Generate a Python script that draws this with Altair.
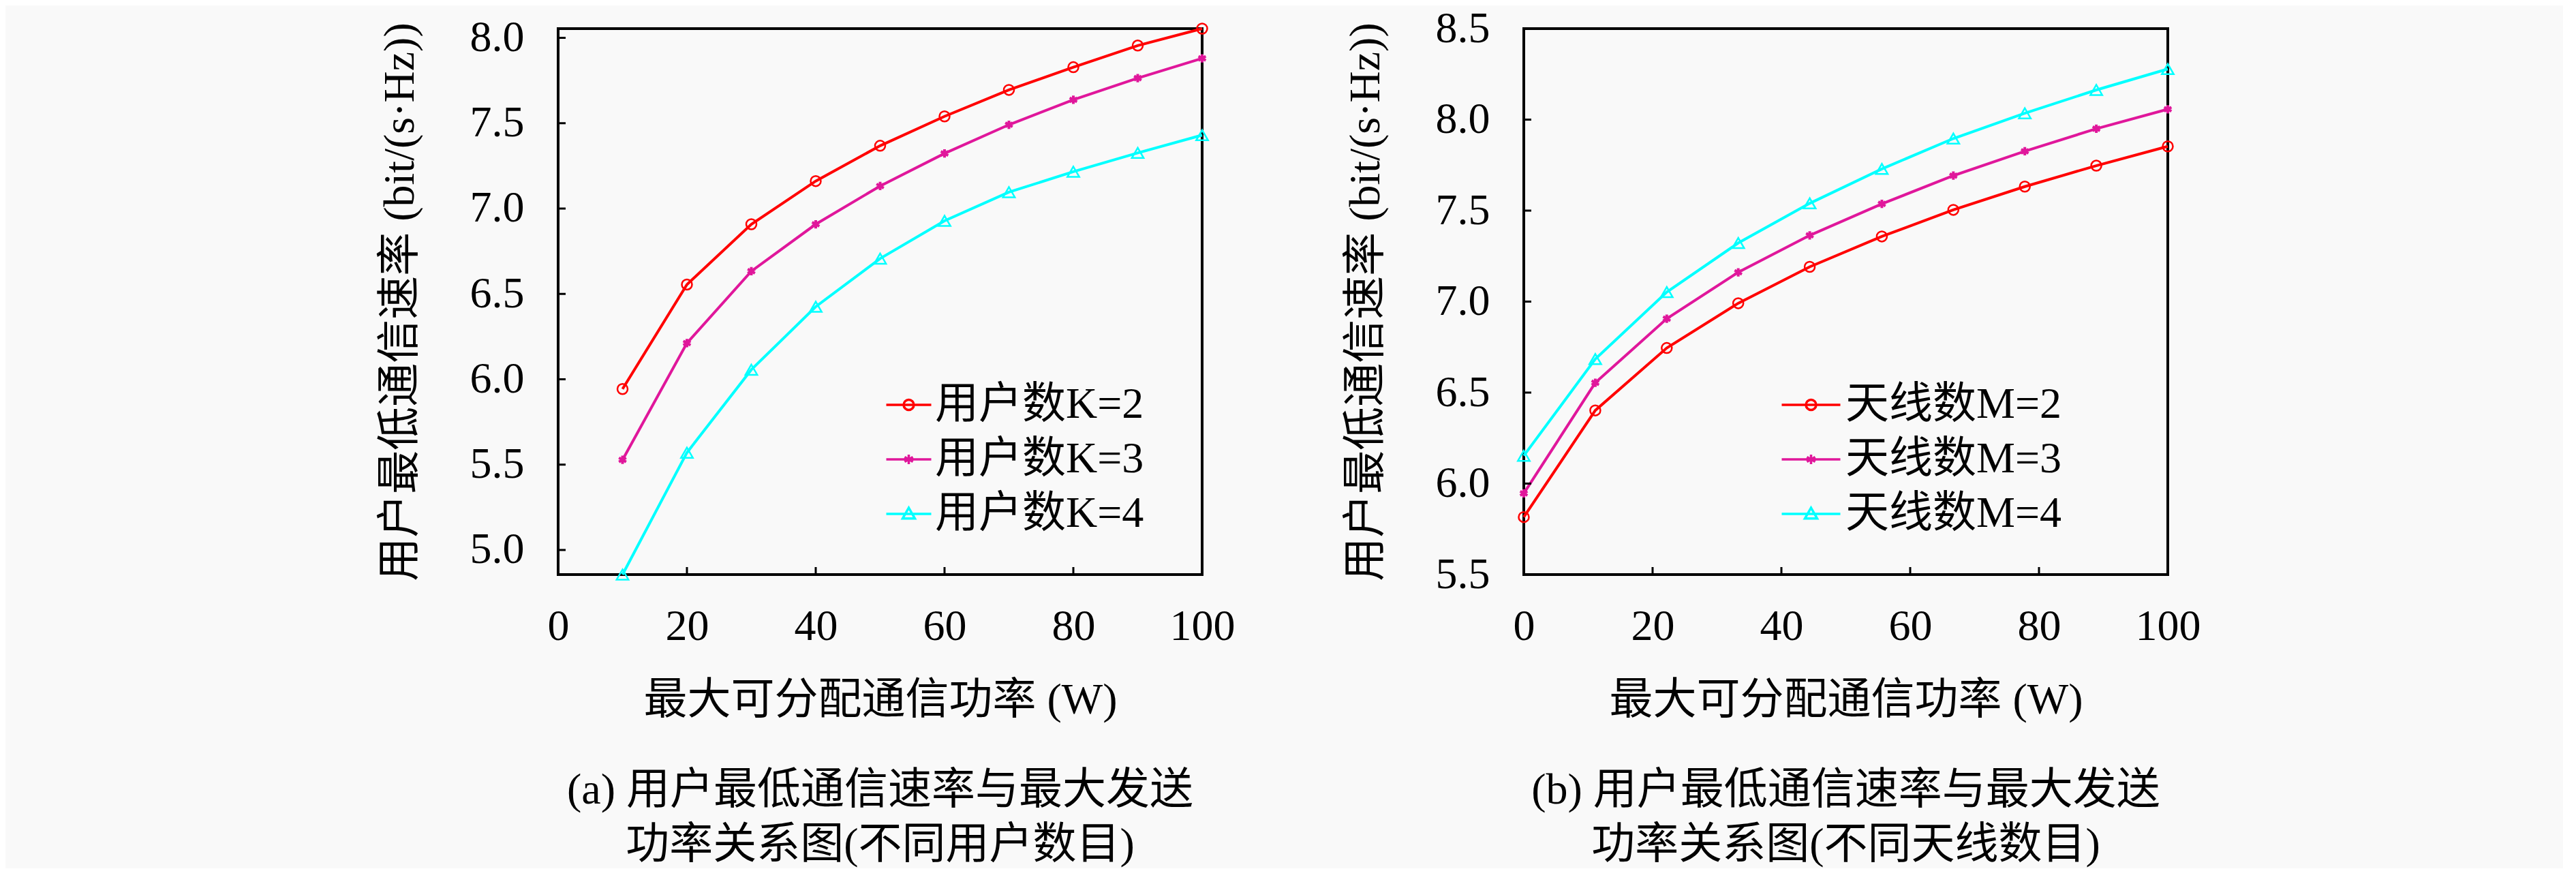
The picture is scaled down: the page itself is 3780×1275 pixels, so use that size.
import altair as alt
import pandas as pd

FONT = "Liberation Serif, Noto Sans CJK SC"

# ---------------- data ----------------
x_a = [10, 20, 30, 40, 50, 60, 70, 80, 90, 100]
k2 = [5.943, 6.555, 6.908, 7.161, 7.368, 7.540, 7.695, 7.828, 7.955, 8.054]
k3 = [5.528, 6.212, 6.633, 6.908, 7.132, 7.323, 7.491, 7.637, 7.764, 7.880]
k4 = [4.856, 5.570, 6.056, 6.425, 6.707, 6.928, 7.096, 7.216, 7.326, 7.430]

x_b = [0, 11.1, 22.2, 33.3, 44.4, 55.6, 66.7, 77.8, 88.9, 100]
m2 = [5.816, 6.402, 6.745, 6.991, 7.191, 7.358, 7.504, 7.632, 7.747, 7.853]
m3 = [5.946, 6.554, 6.906, 7.161, 7.364, 7.537, 7.692, 7.826, 7.950, 8.057]
m4 = [6.153, 6.684, 7.052, 7.322, 7.540, 7.729, 7.896, 8.035, 8.163, 8.278]

labels_a = ["用户数K=2", "用户数K=3", "用户数K=4"]
labels_b = ["天线数M=2", "天线数M=3", "天线数M=4"]
colors = ["#ff0000", "#e0179b", "#00ffff"]

x_ticks = [0, 20, 40, 60, 80, 100]
y_ticks_a = [5.0, 5.5, 6.0, 6.5, 7.0, 7.5, 8.0]
y_ticks_b = [5.5, 6.0, 6.5, 7.0, 7.5, 8.0, 8.5]
y_dom_a = [4.856, 8.054]
y_dom_b = [5.5, 8.5]

x_title = "最大可分配通信功率 (W)"
y_title = "用户最低通信速率 (bit/(s·Hz))"
cap_a = ["(a) 用户最低通信速率与最大发送", "功率关系图(不同用户数目)"]
cap_b = ["(b) 用户最低通信速率与最大发送", "功率关系图(不同天线数目)"]

W, H = 945, 801
FS = 64

STAR = "M0,-1L0,1M-0.87,-0.5L0.87,0.5M-0.87,0.5L0.87,-0.5"


def legend_paths(half):
    # legend symbol size 1600 -> sqrt 40 -> path unit = 20 px
    u = 20.0
    h = round(half / u, 3)
    c = round(7.5 / u, 3)
    s = round(7.0 / u, 3)
    t = round(9.0 / u, 3)
    circ = f"M{-h},0H{h}M{c},0A{c},{c} 0 1,1 {-c},0A{c},{c} 0 1,1 {c},0"
    star = (f"M{-h},0H{h}M0,{-s}L0,{s}M{round(-0.87*s,3)},{round(-0.5*s,3)}L{round(0.87*s,3)},{round(0.5*s,3)}"
            f"M{round(-0.87*s,3)},{round(0.5*s,3)}L{round(0.87*s,3)},{round(-0.5*s,3)}")
    tri = f"M{-h},0H{h}M0,{-t}L{t},{round(0.75*t,3)}L{-t},{round(0.75*t,3)}Z"
    return [circ, star, tri]


def panel(xs, ys_list, labels, y_dom, y_ticks, caption, leg_half, leg_x, leg_y, leg_off):
    rows = []
    for lab, ys in zip(labels, ys_list):
        for xv, yv in zip(xs, ys):
            rows.append({"x": xv, "y": yv, "s": lab})
    df = pd.DataFrame(rows)

    xs_scale = alt.Scale(domain=[0, 100], nice=False, zero=False)
    ys_scale = alt.Scale(domain=y_dom, nice=False, zero=False)
    col_scale = alt.Scale(domain=labels, range=colors)

    x_axis = alt.Axis(values=x_ticks, ticks=False, domain=False, grid=False,
                      labelFont=FONT, labelFontSize=FS, labelColor="black",
                      labelPadding=44, labelFlush=False, labelOverlap=False,
                      title=x_title, titleFont=FONT, titleFontSize=FS,
                      titleFontWeight="normal", titleColor="black", titlePadding=44)
    y_axis = alt.Axis(values=y_ticks, format=".1f", ticks=False, domain=False, grid=False,
                      labelFont=FONT, labelFontSize=FS, labelColor="black",
                      labelPadding=50, labelFlush=False, labelOverlap=False,
                      title=y_title, titleFont=FONT, titleFontSize=FS,
                      titleFontWeight="normal", titleColor="black", titlePadding=70)

    paths = legend_paths(leg_half)
    expr = (f"datum.value === '{labels[0]}' ? '{paths[0]}' : "
            f"(datum.value === '{labels[1]}' ? '{paths[1]}' : '{paths[2]}')")
    leg = alt.Legend(title=None, orient="none", legendX=leg_x, legendY=leg_y,
                     padding=0, rowPadding=16, labelFont=FONT, labelFontSize=FS,
                     labelColor="black", labelLimit=2000, labelOffset=leg_off,
                     symbolType=alt.ExprRef(expr=expr), symbolSize=1600,
                     symbolStrokeWidth=3.5, symbolFillColor="transparent",
                     symbolOpacity=1)

    base = alt.Chart(df)
    lines = base.mark_line(strokeWidth=4).encode(
        x=alt.X("x:Q", scale=xs_scale, axis=x_axis),
        y=alt.Y("y:Q", scale=ys_scale, axis=y_axis),
        color=alt.Color("s:N", scale=col_scale, legend=leg),
        detail="s:N",
    )

    marker_specs = [
        dict(shape="circle", size=225, strokeWidth=2.5),
        dict(shape=STAR, size=150, strokeWidth=4),
        dict(shape="triangle-up", size=300, strokeWidth=2.5),
    ]
    markers = []
    for lab, colr, spec in zip(labels, colors, marker_specs):
        markers.append(
            base.transform_filter(alt.datum.s == lab)
            .mark_point(filled=False, color=colr, opacity=1, **spec)
            .encode(x="x:Q", y="y:Q")
        )

    tdf_x = pd.DataFrame({"x": x_ticks})
    tdf_y = pd.DataFrame({"y": y_ticks})
    xt = alt.Chart(tdf_x).mark_rule(color="black", strokeWidth=3).encode(
        x="x:Q", y=alt.value(H), y2=alt.value(H - 11))
    yt = alt.Chart(tdf_y).mark_rule(color="black", strokeWidth=3).encode(
        y="y:Q", x=alt.value(0), x2=alt.value(11))

    return alt.layer(lines, xt, yt, *markers).properties(
        width=W, height=H,
        title=alt.TitleParams(text=caption, orient="bottom", anchor="middle", frame="group",
                              font=FONT, fontSize=FS, fontWeight="normal", color="black",
                              lineHeight=80, offset=69),
    )


pa = panel(x_a, [k2, k3, k4], labels_a, y_dom_a, y_ticks_a, cap_a, 33, 482.5, 520, 6.5)
pb = panel(x_b, [m2, m3, m4], labels_b, y_dom_b, y_ticks_b, cap_b, 43, 389.5, 520, 18.5)

chart = alt.hconcat(pa, pb, spacing=472, bounds="flush").resolve_scale(
    color="independent"
).resolve_legend(color="independent").properties(
    padding={"left": 545, "top": 0, "right": 530, "bottom": 0},
    background="#f9f9f9",
).configure_view(stroke="black", strokeWidth=4).configure_point(opacity=1)

chart.save("out.html", embed_options={"renderer": "svg", "actions": False})
